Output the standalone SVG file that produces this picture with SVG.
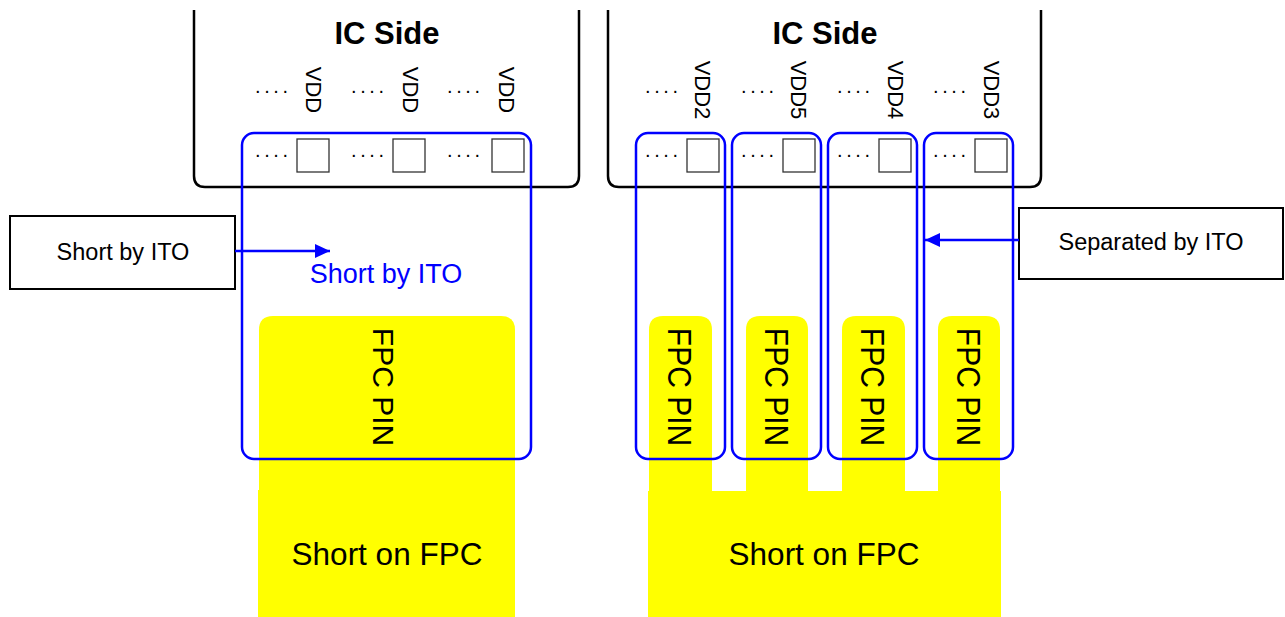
<svg xmlns="http://www.w3.org/2000/svg" width="1285" height="617" viewBox="0 0 1285 617">
<style>
text{font-family:"Liberation Sans",Arial,sans-serif;fill:#000}
.ic{fill:none;stroke:#000;stroke-width:2.5}
.title{font-size:31px;font-weight:bold;text-anchor:middle}
.vdd{font-size:22px;text-anchor:middle}
.dots{font-size:20px;letter-spacing:3.6px}
.pad{fill:#fff;stroke:#333;stroke-width:1.3}
.ito{fill:none;stroke:#0000ff;stroke-width:2.5}
.pin{fill:#ffff00}
.pintext{font-size:30px;text-anchor:middle}
.fpc{font-size:31.5px;text-anchor:middle}
.box{fill:#fff;stroke:#000;stroke-width:2}
.lbl{font-size:23.5px;text-anchor:middle}
.conn{stroke:#0000ff;stroke-width:2.5;fill:none}
</style>
<defs>
<marker id="ah" viewBox="0 0 15 14" refX="15" refY="7" markerWidth="15" markerHeight="14" markerUnits="userSpaceOnUse" orient="auto">
<path d="M0,0 L15,7 L0,14 z" fill="#0000ff"/>
</marker>
</defs>
<rect width="1285" height="617" fill="#fff"/>

<g id="fpc-left">
<path class="pin" d="M259,492 V330 Q259,316 273,316 H501 Q515,316 515,330 V492 Z"/>
<rect class="pin" x="258" y="490" width="257" height="127"/>
<text class="fpc" x="387" y="565">Short on FPC</text>
</g>

<g id="fpc-right">
<path class="pin" d="M649,492 V330 Q649,316 663,316 H698 Q712,316 712,330 V492 Z"/>
<path class="pin" d="M746,492 V330 Q746,316 760,316 H794 Q808,316 808,330 V492 Z"/>
<path class="pin" d="M842,492 V330 Q842,316 856,316 H891 Q905,316 905,330 V492 Z"/>
<path class="pin" d="M938,492 V330 Q938,316 952,316 H986 Q1000,316 1000,330 V492 Z"/>
<rect class="pin" x="648" y="491" width="353" height="126"/>
<text class="fpc" x="824" y="565">Short on FPC</text>
</g>

<g id="ic-left">
<path class="ic" d="M194,10 V176 Q194,187 205,187 H568 Q579,187 579,176 V10"/>
<text class="title" x="387" y="44">IC Side</text>
<text class="vdd" transform="translate(306,90) rotate(90)">VDD</text>
<text class="vdd" transform="translate(403,90) rotate(90)">VDD</text>
<text class="vdd" transform="translate(499,90) rotate(90)">VDD</text>
<text class="dots" x="255" y="93">....</text>
<text class="dots" x="351" y="93">....</text>
<text class="dots" x="447" y="93">....</text>
<text class="dots" x="255" y="157">....</text>
<text class="dots" x="351" y="157">....</text>
<text class="dots" x="447" y="157">....</text>
<rect class="pad" x="297" y="139" width="32" height="33"/>
<rect class="pad" x="393" y="139" width="32" height="33"/>
<rect class="pad" x="492" y="139" width="32" height="33"/>
</g>

<g id="ic-right">
<path class="ic" d="M608,10 V176 Q608,187 619,187 H1030 Q1041,187 1041,176 V10"/>
<text class="title" x="825" y="44">IC Side</text>
<text class="vdd" transform="translate(695,90) rotate(90)">VDD2</text>
<text class="vdd" transform="translate(791,90) rotate(90)">VDD5</text>
<text class="vdd" transform="translate(888,90) rotate(90)">VDD4</text>
<text class="vdd" transform="translate(984,90) rotate(90)">VDD3</text>
<text class="dots" x="645" y="93">....</text>
<text class="dots" x="741" y="93">....</text>
<text class="dots" x="837" y="93">....</text>
<text class="dots" x="933" y="93">....</text>
<text class="dots" x="645" y="157">....</text>
<text class="dots" x="741" y="157">....</text>
<text class="dots" x="837" y="157">....</text>
<text class="dots" x="933" y="157">....</text>
<rect class="pad" x="687" y="139" width="32" height="33"/>
<rect class="pad" x="783" y="139" width="32" height="33"/>
<rect class="pad" x="879" y="139" width="32" height="33"/>
<rect class="pad" x="975" y="139" width="32" height="33"/>
</g>

<g id="ito-left">
<rect class="ito" x="242" y="133" width="289" height="326" rx="12"/>
<text x="386" y="283" font-size="27" text-anchor="middle" style="fill:#0000ff">Short by ITO</text>
</g>

<g id="ito-right">
<rect class="ito" x="636" y="133" width="89" height="326" rx="12"/>
<rect class="ito" x="732" y="133" width="89" height="326" rx="12"/>
<rect class="ito" x="828" y="133" width="89" height="326" rx="12"/>
<rect class="ito" x="924" y="133" width="89" height="326" rx="12"/>
</g>

<g id="pin-labels">
<text class="pintext" transform="translate(373,387) rotate(90)">FPC PIN</text>
<text class="pintext" transform="translate(668,387) rotate(90) scale(1,1.12)">FPC PIN</text>
<text class="pintext" transform="translate(765,387) rotate(90) scale(1,1.12)">FPC PIN</text>
<text class="pintext" transform="translate(861,387) rotate(90) scale(1,1.12)">FPC PIN</text>
<text class="pintext" transform="translate(957,387) rotate(90) scale(1,1.12)">FPC PIN</text>
</g>

<g id="label-short">
<rect class="box" x="10" y="216" width="225" height="73"/>
<text class="lbl" x="123" y="260">Short by ITO</text>
</g>

<g id="label-separated">
<rect class="box" x="1019" y="208" width="264" height="71"/>
<text class="lbl" x="1151" y="250">Separated by ITO</text>
</g>

<g id="connectors">
<path class="conn" d="M235,251 H330" marker-end="url(#ah)"/>
<path class="conn" d="M1019,240 H925" marker-end="url(#ah)"/>
</g>
</svg>
